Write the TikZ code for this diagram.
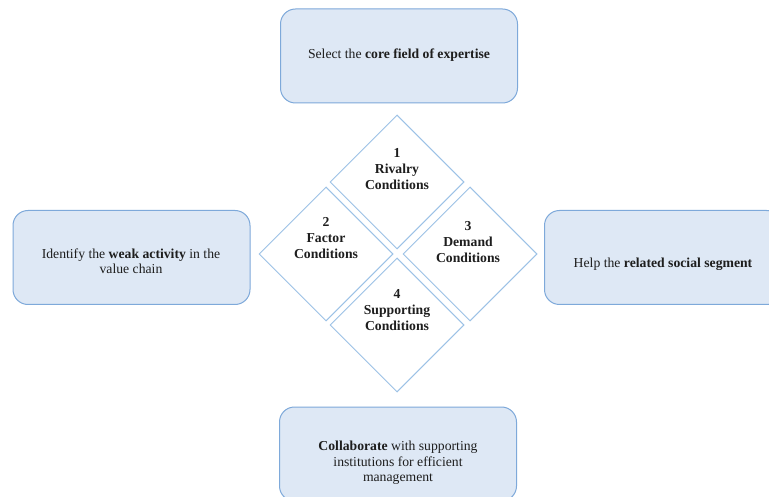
\documentclass[tikz,border=0pt]{standalone}
\usepackage{fontspec}
\setmainfont{Liberation Serif}
\usetikzlibrary{shapes.geometric}
\definecolor{boxfill}{HTML}{DEE8F5}
\definecolor{boxline}{HTML}{7EA9DA}
\definecolor{diaLine}{HTML}{9CC2E6}
\definecolor{txt}{HTML}{1E1E1E}
\tikzset{
  rbox/.style={draw=boxline, fill=boxfill, line width=1pt, rounded corners=15pt,
    minimum width=237pt, minimum height=94pt, inner sep=0pt},
  dia/.style={draw=diaLine, fill=white, line width=1pt, diamond, aspect=1,
    minimum width=134pt, minimum height=134pt, inner sep=0pt},
  btxt/.style={text=txt, align=center, font=\fontsize{13.7}{15.5}\selectfont, inner sep=0pt},
  dtxt/.style={text=txt, align=center, font=\fontsize{13.7}{16}\selectfont\bfseries, inner sep=0pt}
}
\begin{document}
\begin{tikzpicture}[x=1pt,y=-1pt]
\clip (0,0) rectangle (769,497);
\fill[white] (0,0) rectangle (769,497);
% boxes
\node[rbox] (top) at (399,56) {};
\node[rbox] (left) at (131.5,257.5) {};
\node[rbox] (right) at (663,257.5) {};
\node[rbox] (bottom) at (398,454) {};
\node[btxt] (topt) at (399,55) {Select the \textbf{core field of expertise}};
\node[btxt] (leftt) at (131,261) {Identify the \textbf{weak activity} in the\\value chain};
\node[btxt] (rightt) at (663,264) {Help the \textbf{related social segment}};
\node[btxt] (bottomt) at (398,463) {\textbf{Collaborate} with supporting\\institutions for efficient\\management};
% diamonds
\node[dia] (d1) at (397,182) {};
\node[dia] (d2) at (326,254) {};
\node[dia] (d3) at (470,254) {};
\node[dia] (d4) at (397,325) {};
\node[dtxt] (d1t) at (397,169) {1\\Rivalry\\Conditions};
\node[dtxt] (d2t) at (326,238) {2\\Factor\\Conditions};
\node[dtxt] (d3t) at (468,242) {3\\Demand\\Conditions};
\node[dtxt] (d4t) at (397,310) {4\\Supporting\\Conditions};
\end{tikzpicture}
\end{document}
